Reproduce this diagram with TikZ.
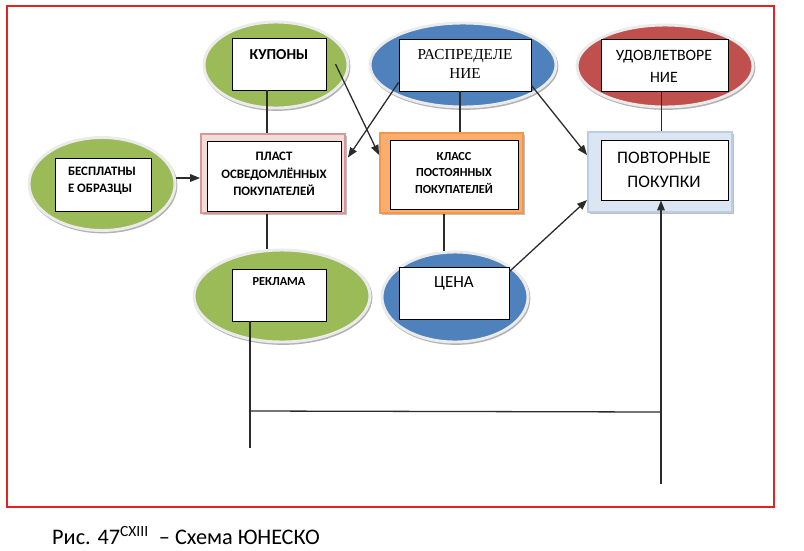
\documentclass[tikz,border=0pt]{standalone}
\usepackage{fontspec}
\setmainfont{Carlito}
\newfontfamily\timesfont{Liberation Serif}
\usetikzlibrary{shapes.geometric,arrows.meta}

\newcommand*{\pxunit}{0.03cm}

\definecolor{ovgreen}{HTML}{9BBB59}
\definecolor{ovblue}{HTML}{4F81BD}
\definecolor{ovred}{HTML}{C0504D}
\definecolor{pinkfill}{HTML}{F2DCDB}
\definecolor{pinkline}{HTML}{D99694}
\definecolor{orfill}{HTML}{F9AE6E}
\definecolor{orline}{HTML}{F79646}
\definecolor{bluefill}{HTML}{DCE6F2}
\definecolor{blueline}{HTML}{B9CDE5}
\definecolor{framered}{HTML}{E32322}
\definecolor{linegray}{HTML}{2B2B2B}

\begin{document}
\begin{tikzpicture}
[
	x=\pxunit, y=-\pxunit,
	oval/.style={ellipse,inner sep=0pt,draw=black!8,line width=2.5pt,
		preaction={draw=black!30,line width=2.5pt,transform canvas={xshift=0.8pt,yshift=-1.2pt}}},
	frame/.style={rectangle,inner sep=0pt,line width=1.6pt,
		preaction={fill=black!25,transform canvas={xshift=1.5pt,yshift=-1.5pt}}},
	box/.style={rectangle,draw,fill=white,line width=0.8pt,inner sep=0pt},
	lbl/.style={align=center,inner sep=0pt},
	conn/.style={draw=linegray,line width=1.1pt},
	arr/.style={conn,-{Triangle[length=8.5pt,width=6.5pt]}}
]

	% bounding box and red frame
	\useasboundingbox (0,0) rectangle (804,550);
	\draw[framered,line width=2.4pt] (7,6) rectangle (774,507);

	% ovals
	\node[oval,fill=ovgreen,minimum width=144*\pxunit,minimum height=86*\pxunit] (kupE) at (276,65) {};
	\node[oval,fill=ovblue,minimum width=186*\pxunit,minimum height=84*\pxunit] (rasE) at (463,65) {};
	\node[oval,fill=ovred,minimum width=176*\pxunit,minimum height=82*\pxunit] (udoE) at (665,66) {};
	\node[oval,fill=ovgreen,minimum width=146*\pxunit,minimum height=93*\pxunit] (besE) at (102,184) {};
	\node[oval,fill=ovgreen,minimum width=176*\pxunit,minimum height=92*\pxunit] (rekE) at (282,296) {};
	\node[oval,fill=ovblue,minimum width=146*\pxunit,minimum height=90*\pxunit] (cenE) at (455,297) {};

	% coloured frames
	\node[frame,fill=pinkfill,draw=pinkline,minimum width=144*\pxunit,minimum height=79*\pxunit] (plaF) at (273,173.5) {};
	\node[frame,fill=orfill,draw=orline,minimum width=143*\pxunit,minimum height=80*\pxunit] (klaF) at (451.5,173) {};
	\node[frame,fill=bluefill,draw=blueline,minimum width=144*\pxunit,minimum height=80*\pxunit] (povF) at (660,172) {};

	% white boxes
	\node[box,minimum width=94*\pxunit,minimum height=52*\pxunit] (kupB) at (279,64) {};
	\node[box,minimum width=132*\pxunit,minimum height=52*\pxunit] (rasB) at (465,65) {};
	\node[box,minimum width=127*\pxunit,minimum height=52*\pxunit] (udoB) at (664.5,65) {};
	\node[box,minimum width=96*\pxunit,minimum height=53*\pxunit] (besB) at (103,184.5) {};
	\node[box,minimum width=134*\pxunit,minimum height=70*\pxunit] (plaB) at (274,176) {};
	\node[box,minimum width=128*\pxunit,minimum height=69*\pxunit] (klaB) at (454,174.5) {};
	\node[box,minimum width=127*\pxunit,minimum height=60*\pxunit] (povB) at (664.5,170) {};
	\node[box,minimum width=94*\pxunit,minimum height=52*\pxunit] (rekB) at (279,295) {};
	\node[box,minimum width=110*\pxunit,minimum height=52*\pxunit] (cenB) at (454,293) {};

	% texts
	\node[lbl,font=\bfseries\fontsize{13}{15}\selectfont] (kupT) at (279,55) {КУПОНЫ};
	\node[lbl,font=\timesfont\fontsize{13}{16}\selectfont] (rasT) at (465,64) {РАСПРЕДЕЛЕ\\НИЕ};
	\node[lbl,font=\fontsize{13.5}{19}\selectfont] (udoT) at (664,66) {УДОВЛЕТВОРЕ\\НИЕ};
	\node[lbl,align=left,font=\bfseries\fontsize{11}{14.5}\selectfont] (besT) at (102,181) {БЕСПЛАТНЫ\\Е ОБРАЗЦЫ};
	\node[lbl,font=\bfseries\fontsize{11}{15}\selectfont] (plaT) at (274,174) {ПЛАСТ\\ОСВЕДОМЛЁННЫХ\\ПОКУПАТЕЛЕЙ};
	\node[lbl,font=\bfseries\fontsize{10.5}{14}\selectfont] (klaT) at (454,173) {КЛАСС\\ПОСТОЯННЫХ\\ПОКУПАТЕЛЕЙ};
	\node[lbl,font=\fontsize{15}{20.5}\selectfont] (povT) at (664,170) {ПОВТОРНЫЕ\\ПОКУПКИ};
	\node[lbl,font=\bfseries\fontsize{10.5}{12}\selectfont] (rekT) at (279,282) {РЕКЛАМА};
	\node[lbl,font=\fontsize{14.5}{17}\selectfont] (cenT) at (454,283) {ЦЕНА};

	% caption
	\node[anchor=base west,inner sep=0pt,font=\fontsize{19}{22}\selectfont] (caption) at (52,544)
		{Рис. 47\textsuperscript{CXIII}\ \ – Схема ЮНЕСКО};

	% connectors
	\draw[conn] ([xshift=-12*\pxunit]kupB.south) -- ([xshift=-12*\pxunit]kupB.south |- plaF.north);
	\draw[arr] ([xshift=9*\pxunit]kupB.east) -- ([yshift=18*\pxunit]klaF.west);
	\draw[arr] ([yshift=9*\pxunit]rasB.south west) -- ([xshift=2*\pxunit,yshift=16*\pxunit]plaF.east);
	\draw[conn] ([xshift=-5*\pxunit]rasB.south) -- ([xshift=-5*\pxunit]rasB.south |- klaF.north);
	\draw[arr] ([yshift=6*\pxunit]rasB.south east) -- ([yshift=17*\pxunit]povF.west);
	\draw[conn] ([xshift=-3*\pxunit]udoB.south) -- ([xshift=-3*\pxunit]udoB.south |- povF.north);
	\draw[arr] ([yshift=-4.5*\pxunit]plaF.west -| besE.east) -- ([yshift=-4.5*\pxunit]plaF.west);
	\draw[conn] ([xshift=-6*\pxunit]plaF.south) -- ([xshift=-6*\pxunit]plaF.south |- rekE.north);
	\draw[conn] ([xshift=-7.5*\pxunit]klaF.south) -- ([xshift=-7.5*\pxunit]klaF.south |- cenE.north);
	\draw[arr] ([yshift=-5*\pxunit]cenB.north east) -- ([yshift=-28*\pxunit]povF.west);

	% feedback line from advertising
	\coordinate (rekEnd) at (250,448);
	\coordinate (joinL) at (250,411);
	\coordinate (joinR) at (661,412);
	\coordinate (povEnd) at (661,484);
	\draw[conn] ([xshift=-29*\pxunit]rekB.south) -- (rekEnd);
	\draw[conn] (joinL) -- (joinR);
	\draw[arr] (povEnd) -- (povEnd |- povB.south);

\end{tikzpicture}
\end{document}
